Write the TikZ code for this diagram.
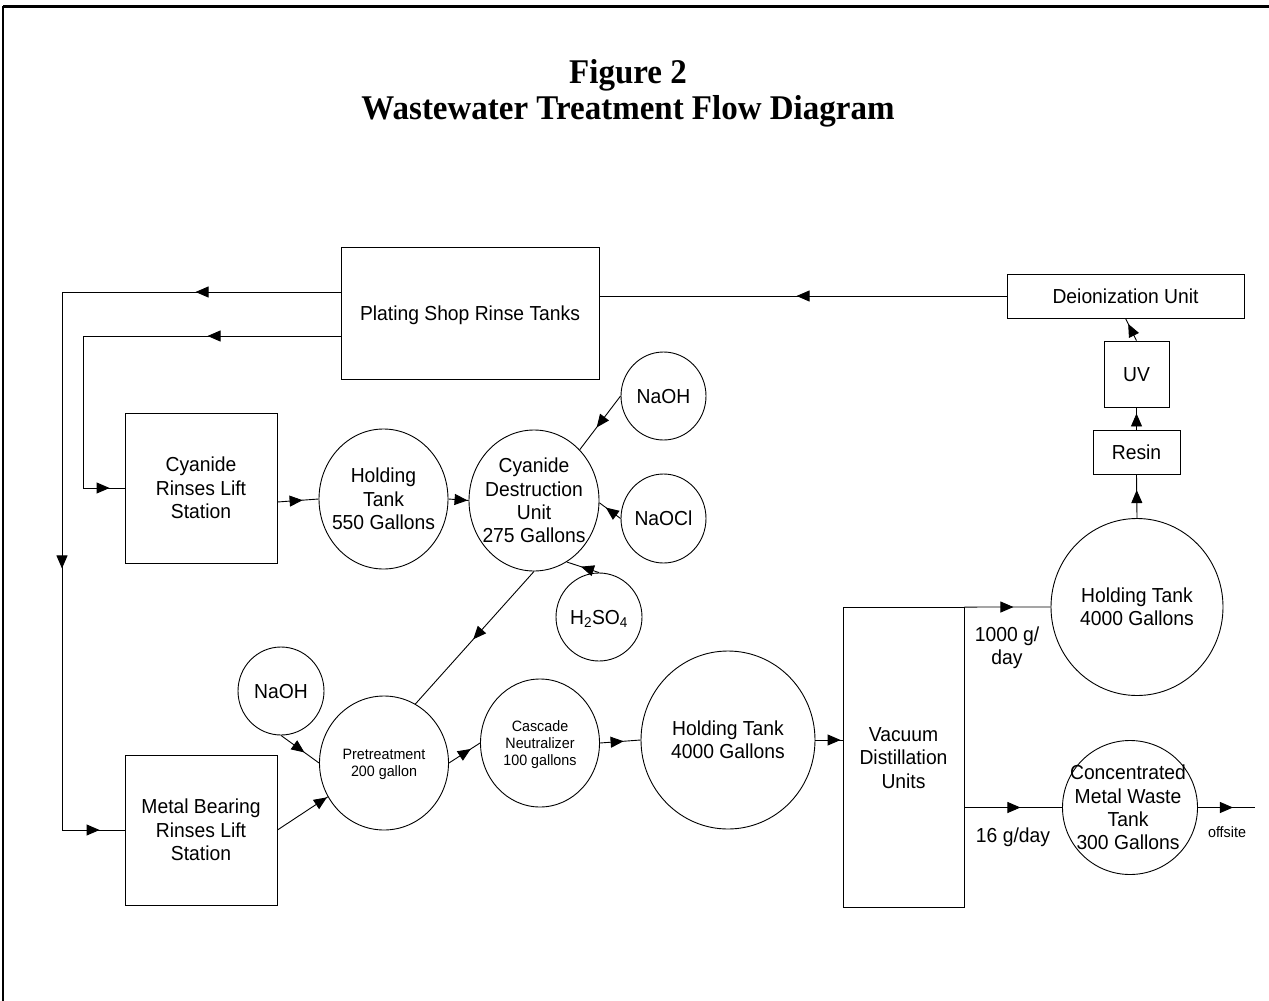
\documentclass[tikz,border=0pt]{standalone}
\usepackage{fontspec}
\setmainfont{Liberation Sans}
\newfontfamily\titlefont{Liberation Serif}
\usetikzlibrary{shapes.geometric,arrows.meta,decorations.markings}
\newcommand\mtxt[1]{\scalebox{1}[1.05]{\begin{tabular}{@{}c@{}}#1\end{tabular}}}
\tikzset{
  box/.style={draw, rectangle, line width=0.9pt, inner sep=0pt},
  tank/.style={draw, ellipse, line width=0.9pt, inner sep=0pt},
  flow/.style={line width=0.9pt},
  tipat/.style={postaction={decorate,decoration={markings,mark=at position #1 with {\arrow{Triangle[length=13pt,width=11pt]}}}}},
  lab/.style={font=\fontsize{19.3}{22.2}\selectfont, inner sep=0pt, yshift=-2.6pt},
  slab/.style={font=\fontsize{14.3}{16.4}\selectfont, inner sep=0pt, yshift=-1.9pt},
}
\begin{document}
\begin{tikzpicture}[x=1pt,y=-1pt]
\useasboundingbox (0,0) rectangle (1269,1001);
% frame
\draw[line width=3pt] (3,6) -- (1269,6);
\draw[line width=1.6pt] (3,6) -- (3,1001);
% title
\node[inner sep=0pt, font=\titlefont\bfseries\fontsize{33}{34.3}\selectfont] (title) at (628,94)
  {\mtxt{Figure 2\\Wastewater Treatment Flow Diagram}};
% boxes
\node[box, minimum width=258pt, minimum height=132pt] (plating) at (470,313) {};
\node[lab] (platingt) at (plating) {\mtxt{Plating Shop Rinse Tanks}};
\node[box, minimum width=237pt, minimum height=44pt] (deion) at (1125.5,296) {};
\node[lab] (deiont) at (deion) {\mtxt{Deionization Unit}};
\node[box, minimum width=65pt, minimum height=66pt] (uv) at (1136.5,374) {};
\node[lab] (uvt) at (uv) {\mtxt{UV}};
\node[box, minimum width=87pt, minimum height=44pt] (resin) at (1136.5,452) {};
\node[lab] (resint) at (resin) {\mtxt{Resin}};
\node[box, minimum width=121pt, minimum height=300pt] (vac) at (903.5,757.5) {};
\node[lab] (vact) at (vac) {\mtxt{Vacuum\\Distillation\\Units}};
\node[box, minimum width=152pt, minimum height=150pt] (cyr) at (201,488) {};
\node[lab] (cyrt) at (cyr) {\mtxt{Cyanide\\Rinses Lift\\Station}};
\node[box, minimum width=152pt, minimum height=150pt] (metal) at (201,830) {};
\node[lab] (metalt) at (metal) {\mtxt{Metal Bearing\\Rinses Lift\\Station}};
% tanks
\node[tank, minimum width=172pt, minimum height=177pt] (holdR) at (1137,607) {};
\node[lab] (holdRt) at (holdR) {\mtxt{Holding Tank\\4000 Gallons}};
\node[tank, minimum width=135pt, minimum height=134pt] (conc) at (1130,807.5) {};
\node[lab] (conct) at (1128,807.5) {\mtxt{Concentrated\\Metal Waste\\Tank\\300 Gallons}};
\node[tank, minimum width=174pt, minimum height=178pt] (holdM) at (728,740) {};
\node[lab] (holdMt) at (holdM) {\mtxt{Holding Tank\\4000 Gallons}};
\node[tank, minimum width=119pt, minimum height=128pt] (casc) at (540,743) {};
\node[slab] (casct) at (casc) {\mtxt{Cascade\\Neutralizer\\100 gallons}};
\node[tank, minimum width=129pt, minimum height=134pt] (pre) at (384,763) {};
\node[slab] (pret) at (pre) {\mtxt{Pretreatment\\200 gallon}};
\node[tank, minimum width=86pt, minimum height=88pt] (naohL) at (281,691) {};
\node[lab] (naohLt) at (naohL) {\mtxt{NaOH}};
\node[tank, minimum width=129pt, minimum height=140pt] (hold550) at (383.5,499) {};
\node[lab] (hold550t) at (hold550) {\mtxt{Holding\\Tank\\550 Gallons}};
\node[tank, minimum width=130pt, minimum height=141pt] (cyd) at (534,500.5) {};
\node[lab] (cydt) at (cyd) {\mtxt{Cyanide\\Destruction\\Unit\\275 Gallons}};
\node[tank, minimum width=85pt, minimum height=88pt] (naohU) at (663.5,396) {};
\node[lab] (naohUt) at (naohU) {\mtxt{NaOH}};
\node[tank, minimum width=85pt, minimum height=89pt] (naocl) at (663.5,518.5) {};
\node[lab] (naoclt) at (naocl) {\mtxt{NaOCl}};
\node[tank, minimum width=86pt, minimum height=88pt] (h2so4) at (599,617) {};
\node[lab] (h2so4t) at (h2so4) {\mtxt{H\textsubscript{2}SO\textsubscript{4}}};
% labels
\node[lab] (l1000) at (1007,646) {\mtxt{1000 g/\\day}};
\node[lab] (l16) at (1013,835) {\mtxt{16 g/day}};
\node[slab] (loff) at (1227,832) {\mtxt{offsite}};
% connectors
\draw[flow, tipat=210pt] (deion.west) -- (deion.west -| plating.east);
\coordinate (lu) at (62,292);
\draw[flow, tipat=145pt, tipat=555pt, tipat=-25pt] ([yshift=21pt]plating.west) -- (lu) -- (lu |- metal.west) -- (metal.west);
\coordinate (ll) at (83,336);
\draw[flow, tipat=133pt, tipat=-15pt] ([yshift=-23pt]plating.west) -- (ll) -- (ll |- cyr.west) -- (cyr.west);
\draw[flow, tipat=-16pt] ([yshift=-14pt]cyr.east) -- (hold550.west);
\draw[flow, tipat=-1pt] (hold550.east) -- (cyd.west);
\draw[flow, tipat=-28pt] (naohU.west) -- (cyd.48);
\draw[flow, tipat=-8pt] (naocl.west) -- (cyd.-2);
\draw[flow, tipat=-15pt] (h2so4.north) -- (cyd.-62);
\draw[flow, tipat=91pt] (cyd.south) -- (pre.62);
\draw[flow, tipat=-18pt] (naohL.south) -- (pre.west);
\draw[flow, tipat=-1pt] (metal.east) -- (pre.211);
\draw[flow, tipat=-11pt] (pre.east) -- (casc.west);
\draw[flow, tipat=-17pt] (casc.east) -- (holdM.west);
\draw[flow, tipat=-2pt] (holdM.east) -- (holdM.east -| vac.west);
\draw[flow, tipat=49pt] (vac.north east) -- (holdR.west);
\draw[flow, tipat=56pt] (vac.east |- conc.west) -- (conc.west);
\coordinate (offend) at (1255,807.5);
\draw[flow, tipat=35pt] (conc.east) -- (offend);
\draw[flow, tipat=28pt] (holdR.north) -- (resin.south);
\draw[flow, tipat=-6pt] (resin.north) -- (uv.south);
\draw[flow, tipat=-6pt] (uv.north) -- (deion.south);
\end{tikzpicture}
\end{document}
